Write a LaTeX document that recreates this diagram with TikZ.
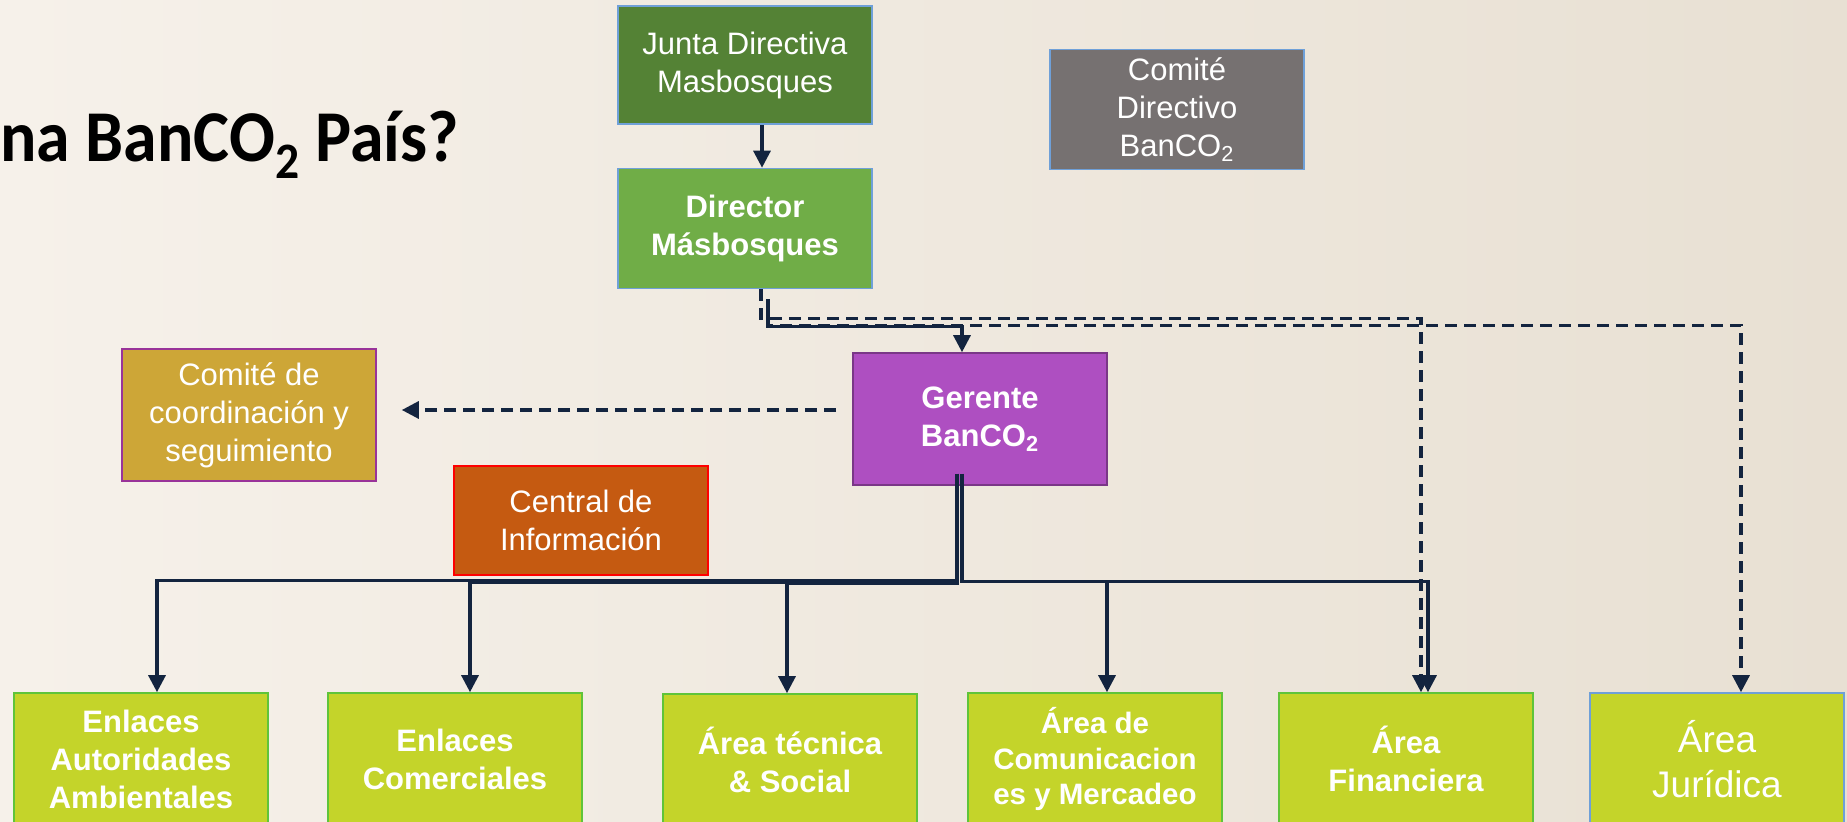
\documentclass[tikz,border=0pt]{standalone}
\usepackage{fontspec}
\setmainfont{Liberation Sans}
\newfontfamily\titlefont[FakeStretch=0.93]{Carlito}
\usepackage{tikz}
\usetikzlibrary{arrows.meta}
\usepackage{xcolor}

\definecolor{bgleft}{HTML}{F6F1EA}
\definecolor{bgright}{HTML}{E8E0D3}
\definecolor{juntagreen}{HTML}{548235}
\definecolor{directorgreen}{HTML}{70AD47}
\definecolor{comitegray}{HTML}{767171}
\definecolor{gerentepurple}{HTML}{AE4FC1}
\definecolor{coordgold}{HTML}{CDA637}
\definecolor{centralorange}{HTML}{C55A11}
\definecolor{areagreen}{HTML}{C4D42A}
\definecolor{linknavy}{HTML}{13243F}
\definecolor{edgeblue}{HTML}{6FA0D8}
\definecolor{edgegreen}{HTML}{5FC43A}

\tikzset{
  box/.style={draw=edgeblue, line width=0.8pt, minimum width=127pt, minimum height=60pt, align=center, text=white, inner sep=2pt, font=\fontsize{15.5}{19}\selectfont},
  area/.style={box, fill=areagreen, draw=edgegreen, minimum height=66pt, font=\fontsize{15.5}{19}\selectfont\bfseries},
  link/.style={draw=linknavy, line width=1.6pt, -{Triangle[length=8.5pt,width=8.5pt]}},
  dashlink/.style={link, line width=1.6pt, dash pattern=on 6pt off 3.5pt},
}

\begin{document}
\begin{tikzpicture}[x=0.5pt, y=-0.5pt]
    % Paper background
    \fill[left color=bgleft, right color=bgright] (0,0) rectangle (1847,822);
    \useasboundingbox (0,0) rectangle (1847,822);

    % Title
    \node[anchor=base west, inner sep=0pt, font=\titlefont\fontsize{36.5}{40}\selectfont\bfseries] (Title) at (0,162) {na BanCO\textsubscript{2} País?};

    % Top of the chart
    \node[box, fill=juntagreen, minimum height=59pt] (Junta) at (745,65) {Junta Directiva\\Masbosques};
    \node[box, fill=directorgreen, font=\fontsize{15.5}{19}\selectfont\bfseries] (Director) at (745,228.5) {Director\\Másbosques};
    \node[box, fill=comitegray] (ComiteDir) at (1177,109.5) {Comité\\Directivo\\BanCO\textsubscript{2}};
    \node[box, fill=gerentepurple, draw=gerentepurple!70!black, minimum height=66pt, font=\fontsize{15.5}{19}\selectfont\bfseries] (Gerente) at (980,419) {Gerente\\BanCO\textsubscript{2}};
    \node[box, fill=coordgold, draw=violet!80, minimum height=66pt] (ComiteCoord) at (249,415) {Comité de\\coordinación y\\seguimiento};
    \node[box, fill=centralorange, draw=red, minimum height=54.5pt] (Central) at (581,520.5) {Central de\\Información};

    % Areas
    \node[area] (EnlacesAut) at (141,759) {Enlaces\\Autoridades\\Ambientales};
    \node[area] (EnlacesCom) at (455,759) {Enlaces\\Comerciales};
    \node[area] (Tecnica) at (790,760) {Área técnica\\\& Social};
    \node[area, font=\fontsize{14.75}{17.8}\selectfont\bfseries] (Comunicaciones) at (1095,759) {Área de\\Comunicacion\\es y Mercadeo};
    \node[area] (Financiera) at (1406,759) {Área\\Financiera};
    \node[area, draw=edgeblue, font=\fontsize{18.5}{22.5}\selectfont] (Juridica) at (1717,759) {Área\\Jurídica};

    % Lines of authority
    \draw[link] ([xshift=8.5pt]Junta.south) -- ([xshift=8.5pt]Director.north);
    \draw[dashlink] ([xshift=8pt]Director.south) |- ([xshift=7.5pt,yshift=187pt]Financiera.north) -- ([xshift=7.5pt]Financiera.north);
    \draw[dashlink] ([xshift=11.5pt,yshift=-5pt]Director.south) |- ([xshift=12pt,yshift=183.5pt]Juridica.north) -- ([xshift=12pt]Juridica.north);
    \draw[link] ([xshift=11.5pt,yshift=-5pt]Director.south) |- ([xshift=-9pt,yshift=13pt]Gerente.north) -- ([xshift=-9pt]Gerente.north);
    \draw[dashlink] ([xshift=-8pt,yshift=4.5pt]Gerente.west) -- ([xshift=12.5pt,yshift=2.5pt]ComiteCoord.east);

    % Gerente to the areas
    \foreach \t/\dx/\dy in {EnlacesAut/8/56, EnlacesCom/7.5/55, Tecnica/-1.5/55}
        \draw[link] ([xshift=-11.5pt,yshift=6pt]Gerente.south) |- ([xshift=\dx pt,yshift=\dy pt]\t.north) -- ([xshift=\dx pt]\t.north);
    \foreach \t/\dx/\dy in {Comunicaciones/6/55.5, Financiera/11/55.5}
        \draw[link] ([xshift=-9pt,yshift=6pt]Gerente.south) |- ([xshift=\dx pt,yshift=\dy pt]\t.north) -- ([xshift=\dx pt]\t.north);

\end{tikzpicture}
\end{document}
